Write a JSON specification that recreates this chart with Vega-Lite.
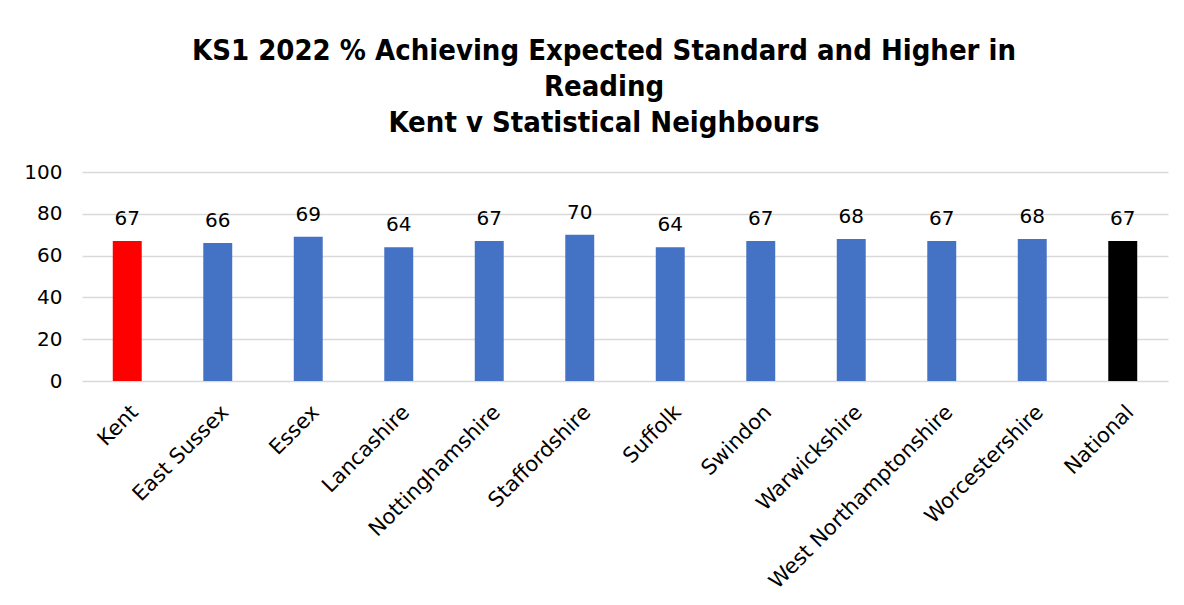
{
  "$schema": "https://vega.github.io/schema/vega-lite/v6.json",
  "width": 1086,
  "height": 209,
  "autosize": {"type": "none"},
  "padding": {"left": 82, "top": 172, "right": 16, "bottom": 224},
  "background": "white",
  "title": {
    "text": ["KS1 2022 % Achieving Expected Standard and Higher in", "Reading", "Kent v Statistical Neighbours"],
    "font": "DejaVu Sans Condensed",
    "fontSize": 29,
    "fontWeight": "bold",
    "color": "black",
    "lineHeight": 36,
    "anchor": "middle",
    "dx": -21,
    "offset": 24
  },
  "config": {
    "view": {"stroke": null},
    "axis": {"labelFont": "DejaVu Sans", "labelFontSize": 20, "labelColor": "black", "titleFont": "DejaVu Sans"}
  },
  "data": {
    "values": [
      {"area": "Kent", "value": 67, "group": "Kent"},
      {"area": "East Sussex", "value": 66, "group": "SN"},
      {"area": "Essex", "value": 69, "group": "SN"},
      {"area": "Lancashire", "value": 64, "group": "SN"},
      {"area": "Nottinghamshire", "value": 67, "group": "SN"},
      {"area": "Staffordshire", "value": 70, "group": "SN"},
      {"area": "Suffolk", "value": 64, "group": "SN"},
      {"area": "Swindon", "value": 67, "group": "SN"},
      {"area": "Warwickshire", "value": 68, "group": "SN"},
      {"area": "West Northamptonshire", "value": 67, "group": "SN"},
      {"area": "Worcestershire", "value": 68, "group": "SN"},
      {"area": "National", "value": 67, "group": "National"}
    ]
  },
  "encoding": {
    "x": {
      "field": "area",
      "type": "nominal",
      "sort": null,
      "scale": {"paddingInner": 0.68, "paddingOuter": 0.34},
      "axis": {"title": null, "labelAngle": -45, "ticks": false, "domain": false, "labelPadding": 20, "labelFontSize": 21, "labelLimit": 0}
    },
    "y": {
      "field": "value",
      "type": "quantitative",
      "scale": {"domain": [0, 100]},
      "axis": {"title": null, "values": [0, 20, 40, 60, 80, 100], "ticks": false, "domain": false, "labelPadding": 20, "gridColor": "#D9D9D9", "gridWidth": 1.3}
    }
  },
  "layer": [
    {
      "mark": {"type": "bar"},
      "encoding": {
        "color": {
          "field": "group",
          "type": "nominal",
          "scale": {"domain": ["Kent", "SN", "National"], "range": ["#FF0000", "#4472C4", "#000000"]},
          "legend": null
        }
      }
    },
    {
      "mark": {"type": "text", "font": "DejaVu Sans", "fontSize": 20, "color": "black", "baseline": "alphabetic", "dy": -16},
      "encoding": {"text": {"field": "value", "type": "quantitative"}}
    }
  ]
}
